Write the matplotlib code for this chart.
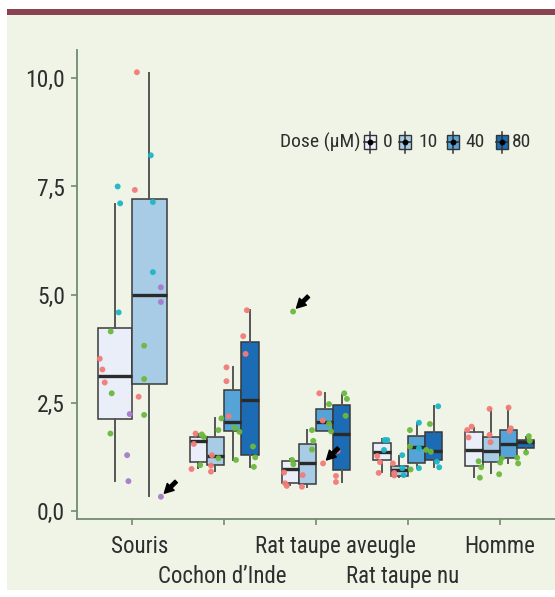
import matplotlib
matplotlib.use('Agg')
import matplotlib.pyplot as plt
from matplotlib import font_manager as fm
from matplotlib.font_manager import FontProperties
from matplotlib.textpath import TextPath
from matplotlib.patches import Rectangle
from matplotlib.lines import Line2D
from matplotlib.transforms import blended_transform_factory, ScaledTranslation
from matplotlib.ticker import FuncFormatter, FixedLocator

# ---------------- data ----------------
species = ['Souris', 'Cochon d\u2019Inde', 'Rat taupe aveugle', 'Rat taupe nu', 'Homme']
doses = ['0', '10', '40', '80']

group_species = [0, 0, 1, 1, 1, 1, 2, 2, 2, 2, 3, 3, 3, 3, 4, 4, 4, 4]
group_dose    = [0, 1, 0, 1, 2, 3, 0, 1, 2, 3, 0, 1, 2, 3, 0, 1, 2, 3]
whislo = [0.70, 0.35, 0.99, 0.92, 1.18, 1.02, 0.59, 0.56, 1.85, 0.67, 0.89, 0.79, 0.99, 1.02, 0.78, 0.87, 1.10, 1.39]
q1     = [2.13, 2.93, 1.14, 1.06, 1.85, 1.29, 0.65, 0.62, 1.85, 0.95, 1.17, 0.81, 1.12, 1.18, 1.04, 1.14, 1.22, 1.46]
med    = [3.13, 5.00, 1.62, 1.28, 2.06, 2.56, 0.98, 1.12, 2.06, 1.79, 1.36, 0.95, 1.49, 1.38, 1.42, 1.39, 1.54, 1.59]
q3     = [4.24, 7.21, 1.72, 1.72, 2.79, 3.91, 1.15, 1.55, 2.35, 2.46, 1.56, 1.04, 1.74, 1.82, 1.82, 1.71, 1.87, 1.65]
whishi = [7.10, 10.12, 1.78, 2.14, 3.32, 4.64, 1.21, 1.87, 2.72, 2.68, 1.66, 1.27, 2.04, 2.42, 1.92, 2.36, 2.39, 1.72]

# individual points: group, value, horizontal jitter (category units), colour code
pt_group = ([0]*12 + [1]*12 + [2]*6 + [3]*5 + [4]*7 + [5]*6 + [6]*6 + [7]*5 + [8]*6 + [9]*6
            + [10]*6 + [11]*7 + [12]*6 + [13]*5 + [14]*6 + [15]*4 + [16]*7 + [17]*3)
pt_value = [7.50, 7.11, 4.59, 4.15, 3.52, 3.27, 2.97, 2.72, 2.24, 1.79, 1.29, 0.69,
            10.14, 8.22, 7.42, 7.14, 5.52, 5.17, 4.83, 3.82, 3.05, 2.64, 2.22, 0.33,
            1.79, 1.55, 1.77, 1.71, 1.06, 0.97,
            1.87, 1.29, 1.22, 1.05, 0.91,
            3.32, 3.00, 2.14, 2.19, 1.92, 1.83, 1.18,
            4.64, 4.04, 3.63, 1.49, 1.24, 1.02,
            4.61, 1.18, 1.08, 0.89, 0.64, 0.58,
            1.87, 1.62, 1.42, 0.83, 0.56,
            2.72, 2.47, 2.02, 2.09, 1.84, 1.10,
            2.72, 2.59, 2.20, 1.39, 0.81, 0.67,
            1.64, 1.64, 1.41, 1.27, 1.13, 0.88,
            1.29, 1.10, 0.99, 0.96, 0.88, 0.82, 0.83,
            2.04, 1.87, 1.49, 1.45, 1.41, 0.99,
            2.42, 2.01, 1.37, 1.14, 1.01,
            1.95, 1.87, 1.70, 1.15, 1.01, 0.77,
            2.36, 1.76, 1.59, 0.85,
            2.39, 1.91, 1.85, 1.22, 1.12, 1.23, 1.10,
            1.73, 1.62, 1.35]
pt_jitter = [0.030, 0.057, 0.041, -0.046, -0.165, -0.136, -0.111, -0.035, 0.161, -0.049, 0.133, 0.147,
             -0.136, 0.016, -0.158, 0.038, 0.038, 0.125, 0.125, -0.057, -0.057, -0.117, -0.057, 0.125,
             -0.029, -0.048, 0.039, 0.061, 0.022, -0.073,
             0.032, -0.038, 0.032, -0.049, -0.049,
             -0.068, -0.068, -0.123, -0.043, 0.022, 0.073, 0.036,
             -0.033, -0.073, -0.047, 0.033, 0.058, 0.043,
             0.032, 0.021, 0.035, -0.066, -0.055, -0.037,
             0.050, 0.064, 0.050, -0.051, -0.059,
             -0.058, 0.048, 0.048, -0.021, 0.070, -0.017,
             0.026, 0.055, 0.041, -0.046, -0.064, -0.064,
             0.028, 0.057, 0.021, -0.052, -0.023, -0.037,
             0.032, -0.070, 0.032, 0.123, -0.055, -0.055, 0.047,
             0.026, -0.072, -0.072, 0.026, 0.105, 0.026,
             0.048, -0.042, -0.032, 0.034, 0.059,
             -0.026, -0.074, -0.059, 0.050, 0.078, 0.064,
             -0.018, -0.018, -0.008, 0.086,
             0.001, 0.026, 0.012, -0.072, -0.090, 0.095, 0.105,
             0.034, 0.045, 0.004]
pt_color = list('CCCGRRRGPGPP'
                'RCRCCPPGGRGP'
                'RRGGGR'
                'GRGRR'
                'RRGRGGG'
                'RRRGGG'
                'GGGRRR'
                'GGGRR'
                'RGGRGR'
                'GGGRRR'
                'CCCRRR'
                'CRCGRRC'
                'CGGCGC'
                'CGGCC'
                'RRRGGG'
                'RRRG'
                'RRRGGGG'
                'GGG')

# outliers pointed by arrows: (group, value)
arrow_targets = [(1, 0.33), (6, 4.61), (8, 1.10)]

# ---------------- style ----------------
W, H = 555, 597
dose_colors = ['#E9EEF8', '#A9CCE6', '#56A3D8', '#1C6BB5']
pt_palette = {'R': '#F37B78', 'G': '#6CB83E', 'C': '#1DB6C6', 'P': '#A57CC8'}
bg_green = '#EFF4E7'
axis_col = '#6F8C6F'
text_col = '#2E2E2E'


def pick_font():
    prefs = ['Roboto Condensed', 'Liberation Sans Narrow', 'Noto Sans', 'Open Sans', 'Roboto']
    for fam in prefs:
        for f in fm.fontManager.ttflist:
            if f.name != fam or f.style != 'normal':
                continue
            if str(f.weight).lower() not in ('400', 'normal', 'regular', 'book'):
                continue
            st = str(f.stretch).lower()
            if 'condensed' in st or 'narrow' in st or 'Condensed' in fam or 'Narrow' in fam:
                return FontProperties(fname=f.fname)
    return FontProperties(family=['Roboto', 'DejaVu Sans'])


FP = pick_font()


def fit_size(s, target_px, max_pt):
    tp = TextPath((0, 0), s, size=10, prop=FP)
    w = tp.get_extents().width * 100 / 72
    return min(max_pt, 10 * target_px / w)


size_cat = fit_size('Souris', 55, 17)
size_tick = fit_size('10,0', 38, 17)
size_leg = fit_size('Dose (\u00b5M)', 79, 14)

fig = plt.figure(figsize=(W / 100, H / 100), dpi=100)
fig.patch.set_facecolor('white')


def fx(x):
    return x / W


def fy(y):
    return 1 - y / H


fig.add_artist(Rectangle((fx(7), fy(590)), 1, (590 - 15) / H, transform=fig.transFigure,
                         facecolor=bg_green, edgecolor='none', zorder=-10))
fig.add_artist(Rectangle((fx(7), fy(15)), 1, 6 / H, transform=fig.transFigure,
                         facecolor='#8A4351', edgecolor='none', zorder=-9))

ax = fig.add_axes([fx(77), fy(519), (W - 77) / W, (519 - 50) / H])
ax.set_facecolor('none')

# ---------------- boxes ----------------
n_per_species = [group_species.count(s) for s in range(len(species))]
dodge = 0.75
positions, widths, stats = [], [], []
for g in range(len(group_species)):
    s = group_species[g]
    n = n_per_species[s]
    d = group_dose[g]
    w = dodge / n
    positions.append(s + (d - (n - 1) / 2) * w)
    widths.append(w)
    stats.append(dict(whislo=whislo[g], q1=q1[g], med=med[g], q3=q3[g], whishi=whishi[g]))

bp = ax.bxp(stats, positions=positions, widths=widths, patch_artist=True, showfliers=False,
            showcaps=False,
            boxprops=dict(edgecolor='#3A3A3A', linewidth=1.1),
            medianprops=dict(color='#2A2A2A', linewidth=2.4, solid_capstyle='butt'),
            whiskerprops=dict(color='#555555', linewidth=1.4),
            zorder=2)
for g, patch in enumerate(bp['boxes']):
    patch.set_facecolor(dose_colors[group_dose[g]])

# ---------------- points ----------------
px_ = [positions[g] + j for g, j in zip(pt_group, pt_jitter)]
ax.scatter(px_, pt_value, s=18, c=[pt_palette[c] for c in pt_color], edgecolors='none',
           alpha=0.95, zorder=3)

for (g, v) in arrow_targets:
    k = [i for i in range(len(pt_group)) if pt_group[i] == g and pt_value[i] == v][0]
    ax.annotate('', xy=(px_[k], pt_value[k]), xytext=(11, 11), textcoords='offset points',
                arrowprops=dict(arrowstyle='simple,head_length=0.65,head_width=0.7,tail_width=0.25',
                                fc='black', ec='black', shrinkA=0, shrinkB=3.5,
                                mutation_scale=10), zorder=4)

# ---------------- axes ----------------
ax.set_xlim(-0.6, 4.6)
ax.set_ylim(-0.185, 10.654)
for sp in ['top', 'right']:
    ax.spines[sp].set_visible(False)
for sp in ['left', 'bottom']:
    ax.spines[sp].set_color(axis_col)
    ax.spines[sp].set_linewidth(1.3)
ax.yaxis.set_major_locator(FixedLocator([0, 2.5, 5, 7.5, 10]))
ax.yaxis.set_major_formatter(FuncFormatter(lambda v, p: f'{v:.1f}'.replace('.', ',')))
ax.set_xticks(range(len(species)))
ax.set_xticklabels([])
ax.tick_params(axis='both', length=4, width=1.2, color=axis_col)
ax.tick_params(axis='y', labelcolor=text_col, pad=4.5)
for lab in ax.get_yticklabels():
    lab.set_fontproperties(FP)
    lab.set_fontsize(size_tick)

trans = blended_transform_factory(ax.transData, ax.transAxes)
label_dx = [8, -2, 19, -5, 0]
for i, name in enumerate(species):
    row = i % 2
    off = ScaledTranslation(label_dx[i] / 100, -(34 + 30 * row) / 100, fig.dpi_scale_trans)
    ax.text(i, 0, name, transform=trans + off, ha='center', va='baseline',
            fontproperties=FP, fontsize=size_cat, color=text_col)

# ---------------- legend ----------------
yc = 142
fig.text(fx(280), fy(yc), 'Dose (\u00b5M)', ha='left', va='center', fontproperties=FP,
         fontsize=size_leg, color=text_col)
key_x = [364, 399, 447, 496]
lab_x = [383, 418, 465, 512]
for d in range(len(doses)):
    xl = key_x[d]
    fig.add_artist(Line2D([fx(xl + 6)] * 2, [fy(yc - 10), fy(yc + 11)], transform=fig.transFigure,
                          color='#333333', lw=1.1))
    fig.add_artist(Rectangle((fx(xl), fy(yc + 7)), 12 / W, 14 / H, transform=fig.transFigure,
                             facecolor=dose_colors[d], edgecolor='#333333', lw=1.0))
    fig.add_artist(Line2D([fx(xl), fx(xl + 12)], [fy(yc)] * 2, transform=fig.transFigure,
                          color='#333333', lw=1.2))
    fig.add_artist(Line2D([fx(xl + 6)], [fy(yc)], transform=fig.transFigure, marker='o',
                          ms=3.2, color='black', lw=0))
    fig.text(fx(lab_x[d]), fy(yc), doses[d], ha='left', va='center', fontproperties=FP,
             fontsize=size_leg, color=text_col)

fig.savefig('out.png', dpi=100, facecolor=fig.get_facecolor())
